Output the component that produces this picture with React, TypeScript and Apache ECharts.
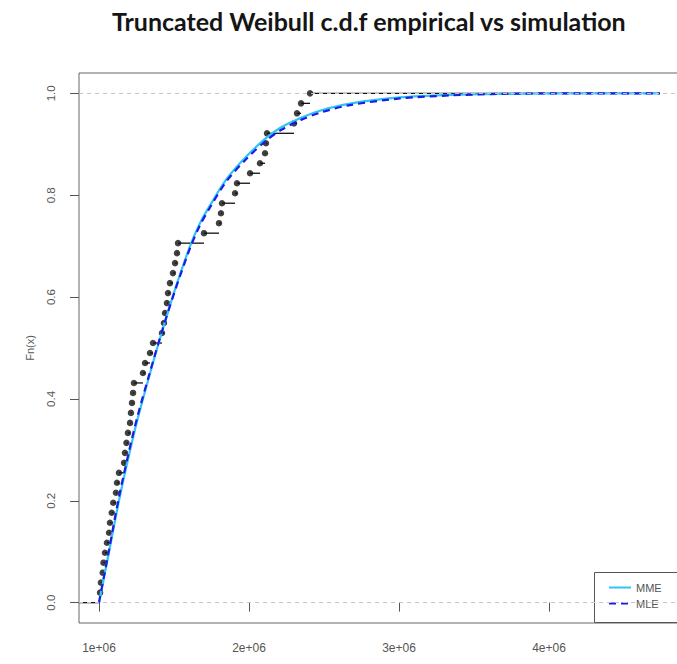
import React, { useEffect, useRef } from "react";
import * as echarts from "echarts";

// Observed losses (sorted), used for the empirical c.d.f.
const sampleValues = [
  1.007e6, 1.013e6, 1.025e6, 1.03e6, 1.04e6, 1.053e6, 1.067e6, 1.073e6, 1.085e6, 1.095e6,
  1.113e6, 1.12e6, 1.133e6, 1.167e6, 1.173e6, 1.183e6, 1.193e6, 1.207e6, 1.213e6, 1.22e6,
  1.227e6, 1.233e6, 1.293e6, 1.307e6, 1.34e6, 1.36e6, 1.42e6, 1.433e6, 1.44e6, 1.453e6,
  1.46e6, 1.473e6, 1.493e6, 1.507e6, 1.52e6, 1.527e6, 1.7e6, 1.8e6, 1.813e6, 1.82e6,
  1.907e6, 1.92e6, 2.007e6, 2.073e6, 2.107e6, 2.113e6, 2.12e6, 2.3e6, 2.32e6, 2.347e6,
  2.407e6,
];

// Fitted truncated Weibull c.d.f. curves
const curveX = [
  1.0e6, 1.067e6, 1.133e6, 1.2e6, 1.257e6, 1.34e6, 1.418e6, 1.507e6, 1.607e6, 1.673e6,
  1.74e6, 1.851e6, 1.985e6, 2.113e6, 2.207e6, 2.34e6, 2.473e6, 2.673e6, 3.007e6, 3.34e6,
  3.673e6, 4.073e6, 4.74e6,
];
const mmeValues = [
  0, 0.1, 0.2, 0.29, 0.36, 0.45, 0.53, 0.615, 0.7, 0.745,
  0.78, 0.832, 0.877, 0.912, 0.932, 0.951, 0.966, 0.98, 0.992, 0.997,
  0.999, 1.0, 1.0,
];
const mleValues = [
  0, 0.104, 0.207, 0.297, 0.366, 0.453, 0.531, 0.613, 0.696, 0.741,
  0.776, 0.828, 0.872, 0.907, 0.927, 0.947, 0.962, 0.977, 0.99, 0.996,
  0.999, 1.0, 1.0,
];

// Axes
const xMin = 866667;
const xMax = 5000000;
const xTickValues = [1e6, 2e6, 3e6, 4e6];
const xTickLabels = ["1e+06", "2e+06", "3e+06", "4e+06"];
const yMin = -0.04;
const yMax = 1.04;
const yTickValues = [0, 0.2, 0.4, 0.6, 0.8, 1.0];
const yTickLabels = ["0.0", "0.2", "0.4", "0.6", "0.8", "1.0"];
const referenceLevels = [0, 1];

const seriesNames = ["MME", "MLE"];
const titleText = "Truncated Weibull c.d.f empirical vs simulation";

const labelFont = "'Liberation Sans', Arial, sans-serif";

export default function App() {
  const ref = useRef<HTMLDivElement>(null);

  useEffect(() => {
    if (!ref.current) return;
    const chart = echarts.init(ref.current, undefined, { renderer: "svg" });

    const n = sampleValues.length;
    const curveEnd = curveX[curveX.length - 1];
    // horizontal steps of the ecdf: [from, to, level]
    const steps: number[][] = [[xMin, sampleValues[0], 0]];
    sampleValues.forEach((v, i) => {
      const next = i < n - 1 ? sampleValues[i + 1] : curveEnd;
      steps.push([v, next, (i + 1) / n]);
    });
    const jumps = sampleValues.map((v, i) => [v, (i + 1) / n]);

    const labelFor = (values: number[], labels: string[]) => (v: number) => {
      const idx = values.findIndex((t) => Math.abs(t - v) < 1e-9 * Math.max(1, Math.abs(t)));
      return idx >= 0 ? labels[idx] : "";
    };

    chart.setOption({
      animation: false,
      backgroundColor: "#ffffff",
      title: {
        text: titleText,
        left: 107,
        top: 3,
        textStyle: {
          fontFamily: "Lato, 'Open Sans', sans-serif",
          fontWeight: "bold",
          fontSize: 25,
          color: "#151515",
        },
      },
      grid: {
        show: true,
        left: 79,
        top: 73,
        width: 620,
        height: 550,
        outerBoundsMode: "none",
        containLabel: false,
        borderColor: "#666",
        borderWidth: 1,
        backgroundColor: "transparent",
      },
      // legend frame, running off the right edge like the plot box
      graphic: [
        {
          type: "rect",
          x: 594.5,
          y: 572.5,
          z: 3,
          shape: { width: 120, height: 50 },
          style: { fill: "#ffffff", stroke: "#555", lineWidth: 1 },
          silent: true,
        },
      ],
      legend: {
        data: seriesNames,
        orient: "vertical",
        left: 594,
        top: 572,
        padding: [10, 10, 12, 14],
        itemWidth: 22,
        itemHeight: 12,
        itemGap: 5,
        z: 4,
        itemStyle: { opacity: 0 },
        borderWidth: 0,
        backgroundColor: "transparent",
        textStyle: { fontFamily: labelFont, fontSize: 11, color: "#555" },
      },
      xAxis: {
        type: "value",
        min: xMin,
        max: xMax,
        axisLine: { show: false },
        splitLine: { show: false },
        axisTick: {
          show: true,
          inside: false,
          length: 9,
          customValues: xTickValues,
          lineStyle: { color: "#555" },
        },
        axisLabel: {
          customValues: xTickValues,
          formatter: labelFor(xTickValues, xTickLabels),
          margin: 19,
          fontFamily: labelFont,
          fontSize: 12,
          color: "#555",
        },
      },
      yAxis: {
        type: "value",
        min: yMin,
        max: yMax,
        name: "Fn(x)",
        nameLocation: "middle",
        nameGap: 44,
        nameTextStyle: { fontFamily: labelFont, fontSize: 11, color: "#555" },
        axisLine: { show: false },
        splitLine: { show: false },
        axisTick: {
          show: true,
          inside: false,
          length: 9,
          customValues: yTickValues,
          lineStyle: { color: "#555" },
        },
        axisLabel: {
          customValues: yTickValues,
          formatter: labelFor(yTickValues, yTickLabels),
          rotate: 90,
          margin: 22,
          fontFamily: labelFont,
          fontSize: 11.5,
          color: "#555",
        },
      },
      series: [
        {
          name: "reference",
          type: "line",
          data: [],
          silent: true,
          markLine: {
            silent: true,
            symbol: "none",
            label: { show: false },
            lineStyle: { color: "#c4c4c4", type: [4, 4], width: 1 },
            data: referenceLevels.map((y) => ({ yAxis: y })),
          },
        },
        {
          name: "ecdf steps",
          type: "custom",
          silent: true,
          clip: true,
          encode: { x: [0, 1], y: 2 },
          data: steps,
          renderItem: (_params: any, api: any) => {
            const p1 = api.coord([api.value(0), api.value(2)]);
            const p2 = api.coord([api.value(1), api.value(2)]);
            return {
              type: "line",
              shape: { x1: p1[0], y1: p1[1], x2: p2[0], y2: p2[1] },
              style: { stroke: "#111", lineWidth: 1.3 },
            };
          },
        },
        {
          name: "ecdf",
          type: "scatter",
          silent: true,
          symbol: "circle",
          symbolSize: 6.5,
          itemStyle: { color: "#111" },
          data: jumps,
        },
        {
          name: "MME",
          type: "line",
          smooth: 0.3,
          symbol: "none",
          showSymbol: false,
          color: "#2ec4f5",
          lineStyle: { color: "#2ec4f5", width: 2.2 },
          data: curveX.map((x, i) => [x, mmeValues[i]]),
        },
        {
          name: "MLE",
          type: "line",
          smooth: 0.3,
          symbol: "none",
          showSymbol: false,
          color: "#1c1ce8",
          lineStyle: { color: "#1c1ce8", width: 2.2, type: [7, 5] },
          data: curveX.map((x, i) => [x, mleValues[i]]),
        },
      ],
    });

    return () => chart.dispose();
  }, []);

  return (
    <div
      ref={ref}
      style={{ position: "absolute", left: 0, top: 0, width: 677, height: 664 }}
    />
  );
}
